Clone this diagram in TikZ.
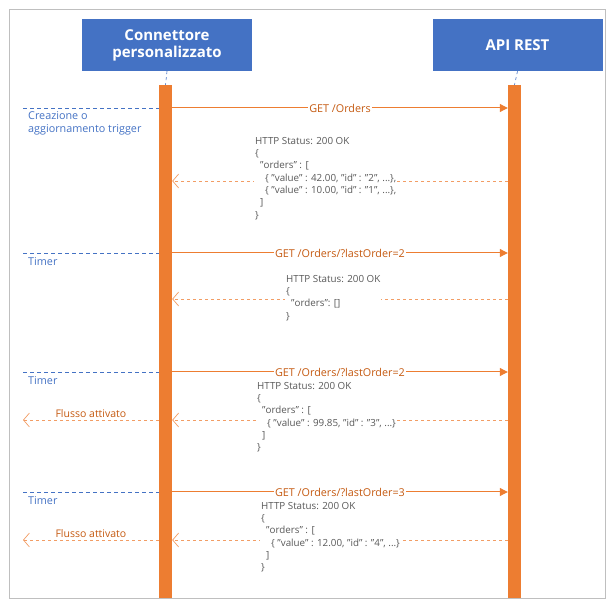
\documentclass[tikz,border=0pt]{standalone}
\usepackage{fontspec}
\setmainfont{Open Sans}
\usetikzlibrary{arrows.meta}
\definecolor{hdr}{HTML}{4472C4}
\definecolor{barc}{HTML}{ED7D31}
\definecolor{lblc}{HTML}{C55A11}
\definecolor{respc}{HTML}{F4B183}
\definecolor{txtc}{HTML}{595959}
\definecolor{framec}{HTML}{BFBFBF}
\definecolor{bluec}{HTML}{4472C4}
\tikzset{
  hdrbox/.style={fill=hdr, text=white, font=\fontsize{15}{17}\selectfont\bfseries, align=center, inner sep=0pt, minimum width=170pt, minimum height=52pt},
  barbox/.style={fill=barc, inner sep=0pt, minimum width=13pt, minimum height=513pt, anchor=north},
  lifeline/.style={draw=bluec, dashed, line width=0.6pt},
  msgline/.style={draw=barc, line width=1pt, -{Triangle[length=8pt,width=8pt]}},
  msglbl/.style={fill=white, text=lblc, font=\fontsize{10.8}{12}\selectfont, inner sep=1.5pt},
  respline/.style={draw=barc!75, dashed, line width=0.8pt, -{Straight Barb[length=6pt,width=14pt,line width=0.7pt]}},
  trigline/.style={draw=bluec, dashed, dash pattern=on 4pt off 3pt, line width=0.6pt},
  triglbl/.style={text=bluec, font=\fontsize{10.8}{13}\selectfont, align=left, inner sep=0pt, anchor=north west},
  json/.style={fill=white, text=txtc, font=\fontsize{9.8}{12.3}\selectfont, align=left, inner sep=1pt, anchor=north west},
  flowlbl/.style={text=lblc, font=\fontsize{10.5}{12}\selectfont, inner sep=1pt}
}
\newcommand{\ind}[1]{\hspace*{#1pt}}
\begin{document}
\begin{tikzpicture}[x=1pt,y=-1pt]
\useasboundingbox (0,0) rectangle (614,612);
\draw[framec, line width=0.8pt] (9,9) rectangle (605,598);

% headers
\node[hdrbox] (hc) at (167,45) {Connettore\\personalizzato};
\node[hdrbox] (ha) at (517.5,45) {API REST};

% bars
\node[barbox] (bl) at (165.5,85) {};
\node[barbox] (br) at (514.5,85) {};
\draw[lifeline] (hc.south) -- (bl.north);
\draw[lifeline] (ha.south) -- (br.north);

% trigger coordinates
\coordinate (t1) at (23,108);
\coordinate (t2) at (23,253);
\coordinate (t3) at (23,372);
\coordinate (t4) at (23,492);
\coordinate (f3) at (23,420);
\coordinate (f4) at (23,540);
\coordinate (r1) at (0,181);
\coordinate (r2) at (0,299);
\coordinate (r3) at (0,420);
\coordinate (r4) at (0,540);

% trigger lines
\draw[trigline] (t1) -- (bl.west |- t1);
\draw[trigline] (t2) -- (bl.west |- t2);
\draw[trigline] (t3) -- (bl.west |- t3);
\draw[trigline] (t4) -- (bl.west |- t4);
\node[triglbl] (l1) at (28,111) {Creazione o\\aggiornamento trigger};
\node[triglbl] (l2) at (28,257) {Timer};
\node[triglbl] (l3) at (28,376) {Timer};
\node[triglbl] (l4) at (28,496) {Timer};

% requests
\draw[msgline] (bl.east |- t1) -- node[msglbl] (m1) {GET /Orders} (br.west |- t1);
\draw[msgline] (bl.east |- t2) -- node[msglbl] (m2) {GET /Orders/?lastOrder=2} (br.west |- t2);
\draw[msgline] (bl.east |- t3) -- node[msglbl] (m3) {GET /Orders/?lastOrder=2} (br.west |- t3);
\draw[msgline] (bl.east |- t4) -- node[msglbl] (m4) {GET /Orders/?lastOrder=3} (br.west |- t4);

% responses
\draw[respline] (br.west |- r1) -- (bl.east |- r1);
\draw[respline] (br.west |- r2) -- (bl.east |- r2);
\draw[respline] (br.west |- r3) -- (bl.east |- r3);
\draw[respline] (br.west |- r4) -- (bl.east |- r4);

\node[json] (j1) at (254,136) {HTTP Status: 200 OK\\\{\\\ind{5}"orders" : [\\\ind{10}\{ "value" : 42.00, "id" : "2", ...\},\\\ind{10}\{ "value" : 10.00, "id" : "1", ...\},\\\ind{5}]\\\}};
\node[json] (j2) at (285,274) {HTTP Status: 200 OK\\\{\\\ind{5}"orders": []\\\}};
\node[json] (j3) at (256,381) {HTTP Status: 200 OK\\\{\\\ind{5}"orders" : [\\\ind{10}\{ "value" : 99.85, "id" : "3", ...\}\\\ind{5}]\\\}};
\node[json] (j4) at (260,501) {HTTP Status: 200 OK\\\{\\\ind{5}"orders" : [\\\ind{10}\{ "value" : 12.00, "id" : "4", ...\}\\\ind{5}]\\\}};

% flows activated
\draw[respline] (bl.west |- f3) -- node[flowlbl, above=1pt] (fl3) {Flusso attivato} (f3);
\draw[respline] (bl.west |- f4) -- node[flowlbl, above=1pt] (fl4) {Flusso attivato} (f4);
\end{tikzpicture}
\end{document}
